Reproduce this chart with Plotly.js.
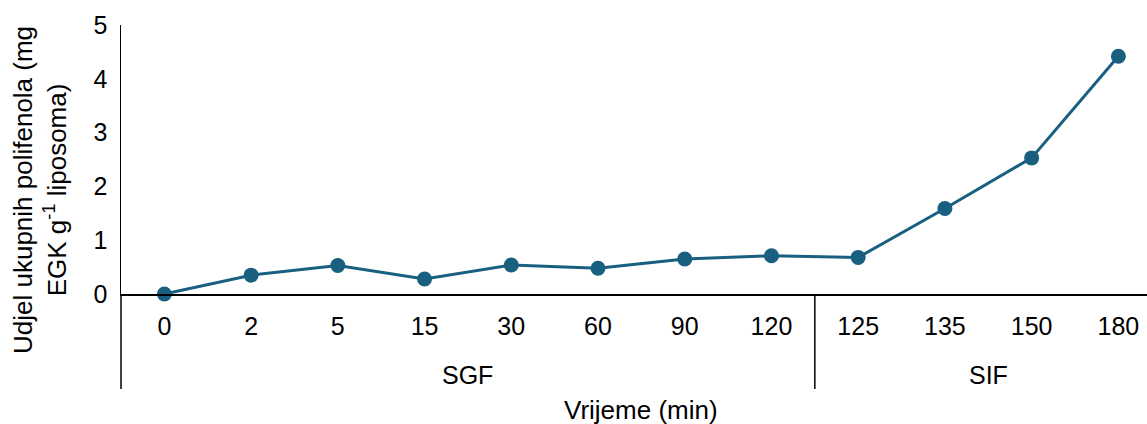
<!DOCTYPE html>
<html>
<head>
<meta charset="utf-8">
<script src="https://cdn.plot.ly/plotly-3.0.1.min.js"></script>
<style>html,body{margin:0;padding:0;background:#fff;}#chart{width:1147px;height:424px;}</style>
</head>
<body>
<div id="chart"></div>
<script>
const phases = ['SGF','SGF','SGF','SGF','SGF','SGF','SGF','SGF','SIF','SIF','SIF','SIF'];
const times = ['0','2','5','15','30','60','90','120','125','135','150','180'];
const polyphenols = [0, 0.35, 0.53, 0.28, 0.54, 0.48, 0.65, 0.71, 0.68, 1.59, 2.53, 4.42];
const yTicks = [0, 1, 2, 3, 4, 5];

const FONT = 'Liberation Sans, Arial, sans-serif';
const LINE = '#185f80';
const X_RANGE = [-0.5, 11.33];

// Group spans derived from the phases array (category indices)
const groups = [];
phases.forEach((p, i) => {
  const g = groups[groups.length - 1];
  if (g && g.name === p) g.end = i; else groups.push({name: p, start: i, end: i});
});
const toPaperX = idx => (idx - X_RANGE[0]) / (X_RANGE[1] - X_RANGE[0]);

const trace = {
  type: 'scatter',
  mode: 'lines+markers',
  x: times,
  y: polyphenols,
  line: {color: LINE, width: 3},
  marker: {color: LINE, size: 15},
  cliponaxis: false,
  hoverinfo: 'x+y'
};

const groupLabelY = (294 - 375) / 269;
const dividerBottom = (294 - 389) / 269;

const annotations = groups.map(g => ({
  text: g.name,
  xref: 'x', yref: 'paper',
  x: (g.start + g.end) / 2, y: groupLabelY,
  xanchor: 'center', yanchor: 'middle',
  showarrow: false,
  font: {family: FONT, size: 25, color: '#000'}
}));
annotations.push({
  text: 'Vrijeme (min)',
  xref: 'paper', yref: 'paper',
  x: (641 - 121) / 1026, y: (294 - 410) / 269,
  xanchor: 'center', yanchor: 'middle',
  showarrow: false,
  font: {family: FONT, size: 26, color: '#000'}
});
annotations.push({
  text: 'Udjel ukupnih polifenola (mg<br>EGK g<sup>-1</sup> liposoma)',
  textangle: -90,
  xref: 'paper', yref: 'paper',
  x: (40 - 121) / 1026, y: (294 - 190) / 269,
  xanchor: 'center', yanchor: 'middle',
  showarrow: false,
  font: {family: FONT, size: 26, color: '#000'}
});

const dividerXs = [groups[0].start - 0.5].concat(groups.map(g => g.end + 0.5));
const shapes = dividerXs.filter(x => x <= X_RANGE[1]).map(x => ({
  type: 'line', xref: 'paper', yref: 'paper',
  x0: toPaperX(x), x1: toPaperX(x), y0: 0, y1: dividerBottom,
  line: {color: '#000', width: 1.5}
}));

const layout = {
  width: 1147,
  height: 424,
  margin: {l: 121, r: 0, t: 25, b: 130},
  paper_bgcolor: '#fff',
  plot_bgcolor: '#fff',
  showlegend: false,
  font: {family: FONT, size: 25, color: '#000'},
  xaxis: {
    type: 'category',
    categoryorder: 'array',
    categoryarray: times,
    range: X_RANGE,
    showline: true,
    linecolor: '#000',
    linewidth: 1.5,
    showgrid: false,
    zeroline: false,
    ticks: '',
    ticklabelstandoff: 9,
    tickangle: 0,
    tickfont: {family: FONT, size: 25, color: '#000'},
    automargin: false
  },
  yaxis: {
    range: [0, 5],
    tickvals: yTicks,
    ticktext: yTicks.map(String),
    showline: true,
    linecolor: '#000',
    linewidth: 1.5,
    showgrid: false,
    zeroline: false,
    ticks: '',
    ticklabelstandoff: 7,
    tickfont: {family: FONT, size: 25, color: '#000'},
    automargin: false
  },
  annotations: annotations,
  shapes: shapes
};

Plotly.newPlot('chart', [trace], layout, {displayModeBar: false, staticPlot: true});
</script>
</body>
</html>
